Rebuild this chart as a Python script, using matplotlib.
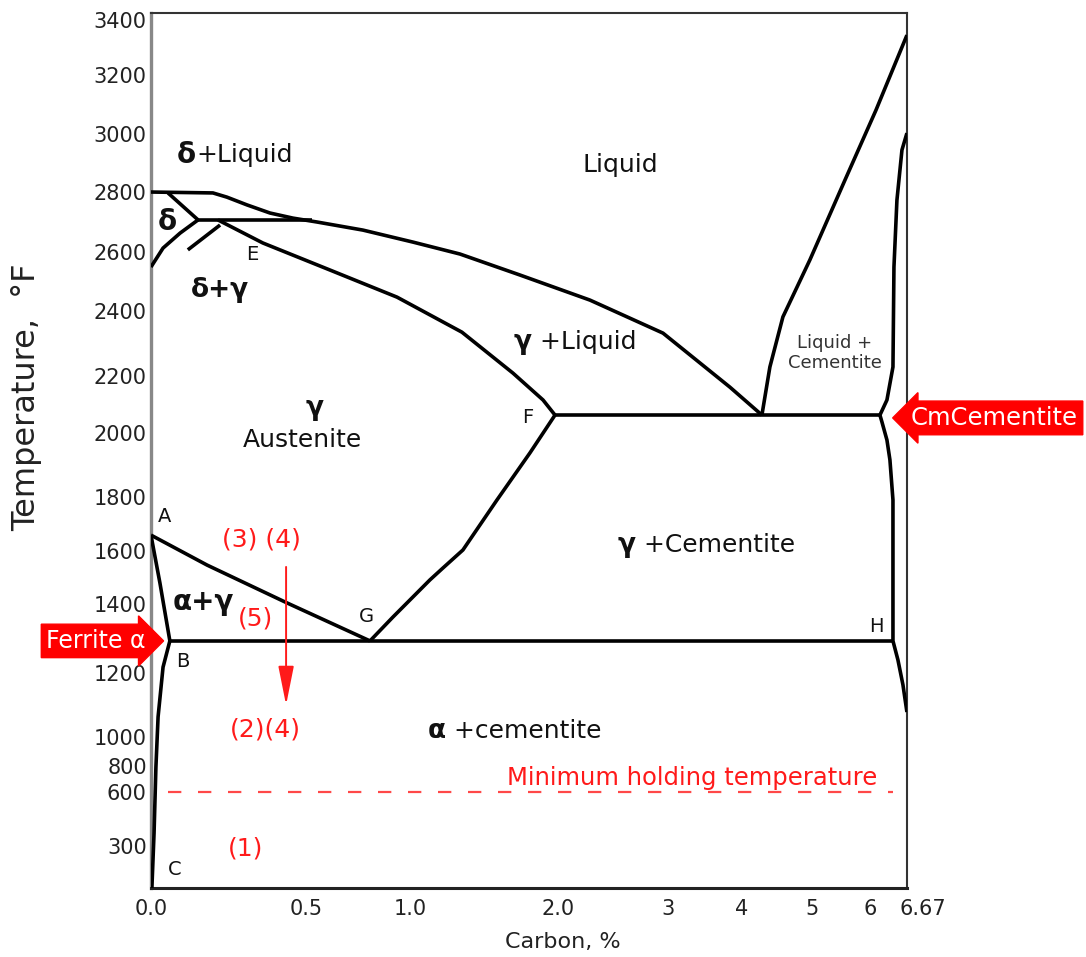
import numpy as np
import matplotlib
matplotlib.use("Agg")
import matplotlib.pyplot as plt
from matplotlib.transforms import ScaledTranslation

# ---- axis layout of the original drawing: value -> fraction of axis length ----
carbon_ticks = [0.0, 0.5, 1.0, 2.0, 3.0, 4.0, 5.0, 6.0, 6.67]
carbon_tick_labels = ["0.0", "0.5", "1.0", "2.0", "3", "4", "5", "6", "6.67"]
carbon_frac = [0.0, 0.2050, 0.3426, 0.5384, 0.6839, 0.7817, 0.8743, 0.9511, 1.0]

temp_knots = [70, 300, 600, 800, 1000, 1200, 1400, 1600, 1800, 2000,
              2200, 2400, 2600, 2800, 3000, 3200, 3400, 3425]
temp_frac = [0.0, 0.0480, 0.1097, 0.1394, 0.1726, 0.2457, 0.3246, 0.3851, 0.4469,
             0.5200, 0.5851, 0.6594, 0.7269, 0.7954, 0.8617, 0.9291, 0.9920, 1.0]
temp_ticks = [300, 600, 800, 1000, 1200, 1400, 1600, 1800, 2000,
              2200, 2400, 2600, 2800, 3000, 3200, 3400]

# ---- phase boundaries (carbon %, temperature F) ----
liquidus_c = [0.0, 0.200, 0.245, 0.310, 0.384, 0.458, 0.553, 0.774, 1.020,
              1.338, 1.743, 2.291, 2.955, 3.838, 4.286]
liquidus_t = [2800, 2797, 2783, 2757, 2730, 2713, 2700, 2673, 2633,
              2593, 2522, 2437, 2332, 2161, 2063]

delta_liq_c = [0.055, 0.152]
delta_liq_t = [2797, 2707]

delta_solvus_c = [0.152, 0.094, 0.039, 0.0]
delta_solvus_t = [2707, 2663, 2613, 2549]

peritectic_c = [0.152, 0.529]
peritectic_t = [2707, 2707]

delta_gamma_c = [0.223, 0.119]
delta_gamma_t = [2690, 2607]

solidus_c = [0.216, 0.361, 0.615, 0.938, 1.351, 1.696, 1.899, 1.980]
solidus_t = [2707, 2630, 2539, 2447, 2335, 2209, 2116, 2063]

acm_c = [1.980, 1.811, 1.588, 1.358, 1.223, 1.135, 0.918, 0.808]
acm_t = [2063, 1938, 1789, 1604, 1536, 1491, 1362, 1293]

a3_c = [0.0, 0.181, 0.439, 0.808]
a3_t = [1659, 1547, 1404, 1293]

ab_c = [0.0, 0.029, 0.061]
ab_t = [1659, 1479, 1293]

bc_c = [0.061, 0.039, 0.023, 0.016, 0.010, 0.003]
bc_t = [1293, 1217, 1063, 792, 372, 70]

eutectoid_c = [0.061, 6.417]
eutectoid_t = [1293, 1293]

eutectic_c = [1.980, 6.181]
eutectic_t = [2063, 2063]

cem_upper_c = [6.181, 6.308, 6.417, 6.435, 6.489, 6.580, 6.67]
cem_upper_t = [2063, 2116, 2228, 2549, 2773, 2945, 3003]

cem_lower_c = [6.181, 6.217, 6.308, 6.362, 6.417, 6.417, 6.507, 6.598, 6.67]
cem_lower_t = [2063, 2039, 1978, 1916, 1789, 1293, 1238, 1163, 1078]

liq_cem_c = [4.286, 4.40, 4.586, 4.971, 5.569, 6.109, 6.67]
liq_cem_t = [2063, 2228, 2382, 2573, 2841, 3081, 3345]

holding_c = [0.055, 6.417]
holding_t = [600, 600]

arrow_c = 0.436
arrow_t = [1540, 1100]

RED = "#ff1a1a"


def fwd_x(v):
    return np.interp(v, carbon_ticks, carbon_frac)


def inv_x(v):
    return np.interp(v, carbon_frac, carbon_ticks)


def fwd_y(v):
    return np.interp(v, temp_knots, temp_frac)


def inv_y(v):
    return np.interp(v, temp_frac, temp_knots)


def main():
    plt.rcParams["font.family"] = ["DejaVu Sans"]
    fig = plt.figure(figsize=(10.86, 9.57), dpi=100)
    ax = fig.add_axes([0.1390, 0.0721, 0.6961, 0.9143])
    ax.set_xscale("function", functions=(fwd_x, inv_x))
    ax.set_yscale("function", functions=(fwd_y, inv_y))
    ax.set_xlim(0, 6.67)
    ax.set_ylim(70, 3425)

    curves = [
        (liquidus_c, liquidus_t), (delta_liq_c, delta_liq_t),
        (delta_solvus_c, delta_solvus_t), (peritectic_c, peritectic_t),
        (delta_gamma_c, delta_gamma_t), (solidus_c, solidus_t),
        (acm_c, acm_t), (a3_c, a3_t), (ab_c, ab_t), (bc_c, bc_t),
        (eutectoid_c, eutectoid_t), (eutectic_c, eutectic_t),
        (cem_upper_c, cem_upper_t), (cem_lower_c, cem_lower_t),
        (liq_cem_c, liq_cem_t),
    ]
    for c, t in curves:
        ax.plot(c, t, color="black", lw=2.6, solid_capstyle="butt",
                solid_joinstyle="round", zorder=3)

    # minimum holding temperature
    ax.plot(holding_c, holding_t, color=RED, lw=1.6, alpha=0.8,
            linestyle=(0, (6.0, 7.5)), zorder=2)
    ax.text(3.324, 708, "Minimum holding temperature", color=RED, fontsize=17.5,
            ha="center", va="center")

    # cooling arrow
    ax.annotate("", xy=(arrow_c, arrow_t[1]), xytext=(arrow_c, arrow_t[0]),
                arrowprops=dict(arrowstyle="-|>,head_length=0.8,head_width=0.16",
                                color=RED, lw=1.4, mutation_scale=30,
                                shrinkA=0, shrinkB=0))

    # red step labels
    for s, c, t in [("(3) (4)", 0.358, 1641), ("(5)", 0.336, 1359),
                    ("(2)(4)", 0.368, 1022), ("(1)", 0.306, 289)]:
        ax.text(c, t, s, color=RED, fontsize=18, ha="center", va="center")

    # phase region labels
    black = "#111111"
    lab = 18
    ax.text(0.145, 2928, "δ", fontsize=20, fontweight="bold", ha="right", va="center", color=black)
    ax.text(0.145, 2928, "+Liquid", fontsize=lab, ha="left", va="center", color=black)
    ax.text(2.564, 2893, "Liquid", fontsize=lab, ha="center", va="center", color=black)
    ax.text(0.052, 2700, "δ", fontsize=20, fontweight="bold", ha="center", va="center", color=black)
    ax.text(0.326, 2590, "E", fontsize=14, ha="center", va="center", color=black)
    ax.text(0.223, 2471, "δ+γ", fontsize=19, fontweight="bold", ha="center", va="center", color=black)
    ax.text(1.824, 2305, "γ", fontsize=19, fontweight="bold", ha="right", va="center", color=black)
    ax.text(1.824, 2305, " +Liquid", fontsize=lab, ha="left", va="center", color=black)
    ax.text(5.397, 2271, "Liquid +\nCementite", fontsize=13, ha="center", va="center",
            color="#333333", linespacing=1.1)
    ax.text(0.543, 2088, "γ", fontsize=19, fontweight="bold", ha="center", va="center", color=black)
    ax.text(0.490, 1978, "Austenite", fontsize=lab, ha="center", va="center", color=black)
    ax.text(1.797, 2056, "F", fontsize=14, ha="center", va="center", color=black)
    ax.text(0.045, 1726, "A", fontsize=14, ha="center", va="center", color=black)
    ax.text(0.168, 1408, "α+γ", fontsize=20, fontweight="bold", ha="center", va="center", color=black)
    ax.text(0.793, 1365, "G", fontsize=14, ha="center", va="center", color=black)
    ax.text(6.109, 1336, "H", fontsize=14, ha="center", va="center", color=black)
    ax.text(0.103, 1232, "B", fontsize=14, ha="center", va="center", color=black)
    ax.text(2.709, 1622, "γ", fontsize=19, fontweight="bold", ha="right", va="center", color=black)
    ax.text(2.709, 1622, " +Cementite", fontsize=lab, ha="left", va="center", color=black)
    ax.text(1.243, 1019, "α", fontsize=19, fontweight="bold", ha="right", va="center", color=black)
    ax.text(1.243, 1019, " +cementite", fontsize=lab, ha="left", va="center", color=black)
    ax.text(0.077, 169, "C", fontsize=14, ha="center", va="center", color=black)

    # red call-outs
    ax.annotate("Ferrite α", xy=(0.047, 1293), xytext=(-20, 0), textcoords="offset pixels",
                ha="right", va="center", color="white", fontsize=17, annotation_clip=False,
                bbox=dict(boxstyle="rarrow,pad=0.2", fc="#ff0000", ec="#ff0000"))
    ax.annotate("CmCementite", xy=(6.398, 2053), xytext=(19, 0), textcoords="offset pixels",
                ha="left", va="center", color="white", fontsize=17.5, annotation_clip=False,
                bbox=dict(boxstyle="larrow,pad=0.2", fc="#ff0000", ec="#ff0000"))

    # axes styling
    ax.set_xticks(carbon_ticks)
    ax.set_xticklabels(carbon_tick_labels)
    ax.set_yticks(temp_ticks)
    ax.set_yticklabels([str(t) for t in temp_ticks])
    ax.minorticks_off()
    ax.tick_params(axis="both", length=0, labelsize=15, colors="#222222")
    ax.tick_params(axis="x", pad=8)
    ax.tick_params(axis="y", pad=3)
    last = ax.get_xticklabels()[-1]
    last.set_transform(last.get_transform() + ScaledTranslation(16 / 100, 0, fig.dpi_scale_trans))

    for side in ["top", "right"]:
        ax.spines[side].set_color("#333333")
        ax.spines[side].set_linewidth(1.5)
    ax.spines["bottom"].set_color("#222222")
    ax.spines["bottom"].set_linewidth(2.2)
    ax.spines["left"].set_color("#888888")
    ax.spines["left"].set_linewidth(2.4)

    ax.set_xlabel("Carbon, %", fontsize=16, color="#222222")
    ax.xaxis.set_label_coords(0.545, -0.050)
    ax.set_ylabel("Temperature,  °F", fontsize=23, color="#222222")
    ax.yaxis.set_label_coords(-0.144, 0.561)

    fig.savefig("out.png", dpi=100)


if __name__ == "__main__":
    main()
